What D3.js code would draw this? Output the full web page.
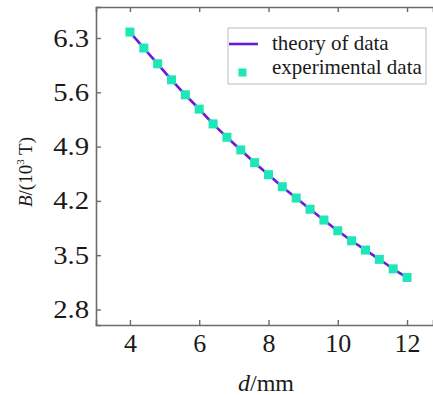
<!DOCTYPE html>
<html>
<head>
<meta charset="utf-8">
<script src="https://cdn.jsdelivr.net/npm/d3@7"></script>
<style>
 body { margin: 0; background: #fff; }
 svg text { font-family: "Liberation Serif", "Times New Roman", serif !important; }
</style>
</head>
<body>
<div id="chart"></div>
<script>
// data
var dVals = [4, 4.4, 4.8, 5.2, 5.6, 6, 6.4, 6.8, 7.2, 7.6, 8, 8.4, 8.8, 9.2, 9.6, 10, 10.4, 10.8, 11.2, 11.6, 12];
var bVals = [6.377, 6.171, 5.968, 5.761, 5.568, 5.383, 5.193, 5.021, 4.857, 4.693, 4.538,
             4.383, 4.237, 4.092, 3.953, 3.815, 3.686, 3.566, 3.446, 3.324, 3.213];
var xTicks = [4, 6, 8, 10, 12];
var yTicks = [2.8, 3.5, 4.2, 4.9, 5.6, 6.3];
var legendLabels = ["theory of data", "experimental data"];

function drawChart() {
    var width = 433, height = 395;
    var pLeft = 96, pTop = 7, pRight = 433, pBottom = 325;
    var lineColor = "#6a1ad8", markColor = "#1fe6b8", axisColor = "#6b6b6b";

    var svg = d3.select("#chart").append("svg")
        .attr("width", width)
        .attr("height", height);

    var x = d3.scaleLinear().domain([3.02, 12.75]).range([pLeft, pRight]);
    var y = d3.scaleLinear().domain([2.6, 6.7]).range([pBottom, pTop]);

    var pts = dVals.map(function(d, i) { return [d, bVals[i]]; });

    // AXES (ticks inside)
    svg.append("g")
        .attr("transform", "translate(0," + pBottom + ")")
        .call(d3.axisBottom(x).tickValues(xTicks).tickSize(-5).tickPadding(9).tickFormat(d3.format("d")))
        .call(styleAxis)
        .selectAll("text").attr("font-size", 26).attr("dy", "0.71em");

    svg.append("g")
        .attr("transform", "translate(0," + pTop + ")")
        .call(d3.axisTop(x).tickValues(xTicks).tickSize(-5).tickFormat(""))
        .call(styleAxis);

    // y labels look a bit stretched sideways in the original
    svg.append("g")
        .attr("transform", "translate(" + pLeft + ",0)")
        .call(d3.axisLeft(y).tickValues(yTicks).tickSize(-5).tickPadding(6).tickFormat(d3.format(".1f")))
        .call(styleAxis)
        .selectAll("text")
        .attr("font-size", 25)
        .attr("transform", "scale(1.15,1)");

    function styleAxis(g) {
        g.select(".domain").attr("stroke", axisColor).attr("stroke-width", 1.6);
        g.selectAll(".tick line").attr("stroke", axisColor).attr("stroke-width", 1.4);
        g.selectAll("text").attr("fill", "#1a1a1a");
    }

    // THEORY LINE
    svg.append("path")
        .datum(pts)
        .attr("d", d3.line().x(function(d) { return x(d[0]); }).y(function(d) { return y(d[1]); }).curve(d3.curveMonotoneX))
        .attr("fill", "none")
        .attr("stroke", lineColor)
        .attr("stroke-width", 2.6);

    // EXPERIMENT POINTS
    var ms = 9;
    svg.append("g")
        .selectAll("rect")
        .data(pts)
        .enter()
        .append("rect")
        .attr("x", function(d) { return x(d[0]) - ms / 2; })
        .attr("y", function(d) { return y(d[1]) - ms / 2; })
        .attr("width", ms)
        .attr("height", ms)
        .attr("fill", markColor);

    // LEGEND
    var lg = svg.append("g").attr("transform", "translate(228,28)");
    lg.append("rect")
        .attr("width", 198).attr("height", 56)
        .attr("fill", "#fff").attr("stroke", "#bdbdbd").attr("stroke-width", 1);
    lg.append("line")
        .attr("x1", 1).attr("x2", 30).attr("y1", 16).attr("y2", 16)
        .attr("stroke", lineColor).attr("stroke-width", 2.6);
    lg.append("rect")
        .attr("x", 10.5).attr("y", 40.5).attr("width", 8).attr("height", 8)
        .attr("fill", markColor);
    lg.selectAll("text.lab")
        .data(legendLabels)
        .enter()
        .append("text")
        .attr("class", "lab")
        .attr("x", 44)
        .attr("y", function(d, i) { return 22 + i * 24; })
        .attr("font-size", 21)
        .attr("fill", "#1a1a1a")
        .text(function(d) { return d; });

    // AXIS TITLES
    var xt = svg.append("text")
        .attr("x", 266)
        .attr("y", 391)
        .attr("text-anchor", "middle")
        .attr("font-size", 24)
        .attr("fill", "#1a1a1a");
    xt.append("tspan").attr("font-style", "italic").text("d");
    xt.append("tspan").text("/mm");

    var yt = svg.append("text")
        .attr("transform", "translate(32,172) rotate(-90)")
        .attr("text-anchor", "middle")
        .attr("font-size", 19)
        .attr("fill", "#1a1a1a");
    yt.append("tspan").attr("font-style", "italic").text("B");
    yt.append("tspan").text("/(10");
    yt.append("tspan").attr("font-size", 11).attr("dy", -8).text("3");
    yt.append("tspan").attr("dy", 8).text(" T)");
}
drawChart();
</script>
</body>
</html>
